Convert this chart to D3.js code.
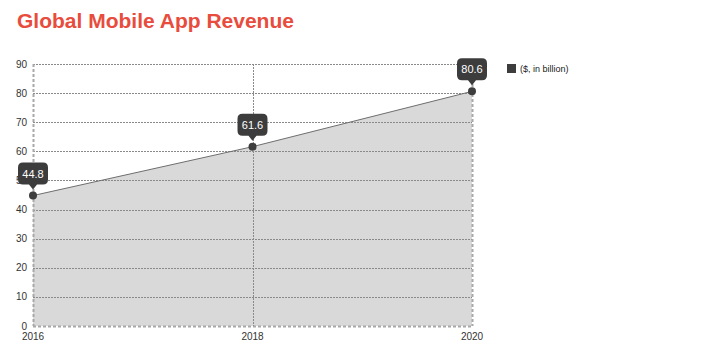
<!DOCTYPE html>
<html>
<head>
<meta charset="utf-8">
<script src="https://cdn.jsdelivr.net/npm/d3@7"></script>
<style>
  body { margin: 0; background: #fff; }
  text { font-family: "Liberation Sans", Arial, sans-serif; }
</style>
</head>
<body>
<svg id="chart" width="715" height="350"></svg>
<script>
// Revenue data ($, in billion)
const years = [2016, 2018, 2020];
const revenue = [44.8, 61.6, 80.6];
const yTicks = [0, 10, 20, 30, 40, 50, 60, 70, 80, 90];
const seriesName = "($, in billion)";

const svg = d3.select("#chart");
const margin = { left: 33, right: 243, top: 64, bottom: 24 };
const W = 715, H = 350;

const x = d3.scaleLinear().domain([2016, 2020]).range([margin.left, W - margin.right]);
const y = d3.scaleLinear().domain([0, 90]).range([H - margin.bottom, margin.top]);

// Title
svg.append("text")
  .attr("x", 17).attr("y", 28)
  .attr("fill", "#e84c3d")
  .attr("font-size", 21)
  .attr("font-weight", "bold")
  .text("Global Mobile App Revenue");

const data = years.map((yr, i) => ({ year: yr, value: revenue[i] }));

// Area under the line
svg.append("path")
  .datum(data)
  .attr("fill", "#d9d9d9")
  .attr("d", d3.area().x(d => x(d.year)).y0(y(0)).y1(d => y(d.value)));

// Horizontal grid
const grid = svg.append("g");
grid.selectAll("line.h").data(yTicks).join("line")
  .attr("x1", x(2016)).attr("x2", x(2020))
  .attr("y1", d => Math.round(y(d)) + 0.5).attr("y2", d => Math.round(y(d)) + 0.5)
  .attr("stroke", d => d === 0 ? "#a8a8a8" : "#8a8a8a")
  .attr("stroke-width", d => d === 0 ? 2 : 1)
  .attr("stroke-dasharray", d => d === 0 ? "3,2" : "2,1");

// Vertical grid
grid.selectAll("line.v").data(years).join("line")
  .attr("x1", d => Math.round(x(d)) + 0.5).attr("x2", d => Math.round(x(d)) + 0.5)
  .attr("y1", y(90)).attr("y2", y(0))
  .attr("stroke", d => d === 2018 ? "#8a8a8a" : "#a8a8a8")
  .attr("stroke-width", d => d === 2018 ? 1 : 2)
  .attr("stroke-dasharray", d => d === 2018 ? "2,1" : "3,2");

// Y axis labels
svg.append("g").selectAll("text").data(yTicks).join("text")
  .attr("x", 27).attr("y", d => y(d) + 3.5)
  .attr("text-anchor", "end")
  .attr("font-size", 10)
  .attr("fill", "#333")
  .text(d => d);

// X axis labels
svg.append("g").selectAll("text").data(years).join("text")
  .attr("x", d => x(d)).attr("y", 340)
  .attr("text-anchor", "middle")
  .attr("font-size", 10)
  .attr("fill", "#333")
  .text(d => d);

// Line
svg.append("path")
  .datum(data)
  .attr("fill", "none")
  .attr("stroke", "#6e6e6e")
  .attr("stroke-width", 1)
  .attr("d", d3.line().x(d => x(d.year)).y(d => y(d.value)));

// Points
svg.append("g").selectAll("circle").data(data).join("circle")
  .attr("cx", d => x(d.year)).attr("cy", d => y(d.value))
  .attr("r", 4)
  .attr("fill", "#3d3d3d");

// Value tooltips
const tips = svg.append("g").selectAll("g").data(data).join("g")
  .attr("transform", d => `translate(${x(d.year)},${y(d.value) - 6})`);
tips.append("path")
  .attr("fill", "#3c3c3c")
  .attr("d", () => {
    const w = 30, h = 22, r = 5, ph = 5;
    const l = -w / 2, rt = w / 2, b = -ph, t = b - h;
    return `M${l + r},${t} H${rt - r} Q${rt},${t} ${rt},${t + r} V${b - r} Q${rt},${b} ${rt - r},${b}` +
      ` H4 L0,0 L-4,${b} H${l + r} Q${l},${b} ${l},${b - r} V${t + r} Q${l},${t} ${l + r},${t} Z`;
  });
tips.append("text")
  .attr("x", 0).attr("y", -12)
  .attr("text-anchor", "middle")
  .attr("font-size", 11)
  .attr("fill", "#fff")
  .text(d => d.value);

// Legend
svg.append("rect")
  .attr("x", 507).attr("y", 64).attr("width", 9).attr("height", 9)
  .attr("fill", "#3d3d3d");
svg.append("text")
  .attr("x", 520).attr("y", 72)
  .attr("font-size", 9)
  .attr("fill", "#222")
  .text(seriesName);
</script>
</body>
</html>
